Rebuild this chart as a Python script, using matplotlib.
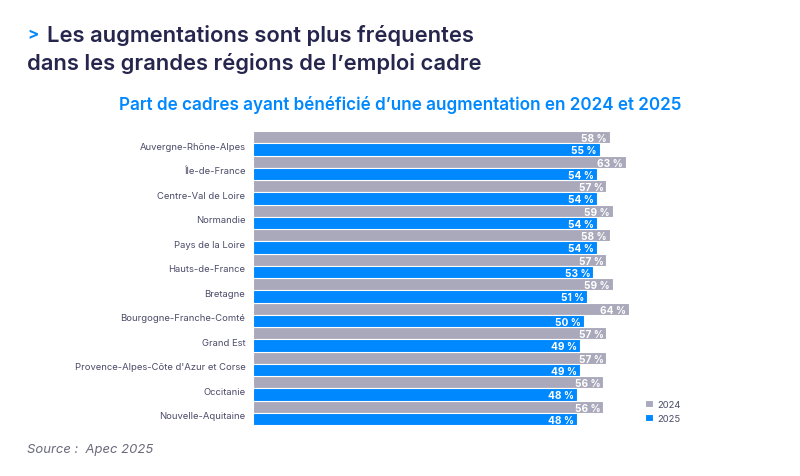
import matplotlib
matplotlib.use("Agg")
import matplotlib.pyplot as plt
import numpy as np

regions = [
    "Auvergne-Rhône-Alpes",
    "Île-de-France",
    "Centre-Val de Loire",
    "Normandie",
    "Pays de la Loire",
    "Hauts-de-France",
    "Bretagne",
    "Bourgogne-Franche-Comté",
    "Grand Est",
    "Provence-Alpes-Côte d'Azur et Corse",
    "Occitanie",
    "Nouvelle-Aquitaine",
]
v2024 = [58, 63, 57, 59, 58, 57, 59, 64, 57, 57, 56, 56]
v2025 = [55, 54, 54, 54, 54, 53, 51, 50, 49, 49, 48, 48]

GRAY = "#a9a9bb"
BLUE = "#0088ff"
NAVY = "#25254d"
LABEL = "#4b4b68"
BASE = -51  # bars start here on the value scale

plt.rcParams["font.family"] = ["Inter", "DejaVu Sans"]

W, H = 800, 477
fig = plt.figure(figsize=(W / 100, H / 100), dpi=100)
ax = fig.add_axes([253 / W, 1 - 426 / H, (649 - 253) / W, (426 - 132) / H])

n = len(regions)
pos = np.arange(n) * 2.0
a24 = np.array(v2024, dtype=float)
a25 = np.array(v2025, dtype=float)
ax.barh(pos, a24 - BASE, left=BASE, height=1.0, color=GRAY,
        edgecolor="white", linewidth=0.8, label="2024")
ax.barh(pos + 1, a25 - BASE, left=BASE, height=1.0, color=BLUE,
        edgecolor="white", linewidth=0.8, label="2025")

for y, v in zip(pos, a24):
    ax.text(v - 0.9, y + 0.08, f"{v:.0f} %", ha="right", va="center",
            color="white", fontsize=7.3, fontweight="bold")
for y, v in zip(pos + 1, a25):
    ax.text(v - 0.9, y + 0.08, f"{v:.0f} %", ha="right", va="center",
            color="white", fontsize=7.3, fontweight="bold")

ax.set_xlim(BASE, 70)
ax.set_ylim(pos[-1] + 1.5, -0.5)
ax.set_yticks(pos + 0.65)
ax.set_yticklabels(regions, fontsize=6.8, color=LABEL)
ax.tick_params(axis="y", length=0, pad=5.5)
ax.set_xticks([])
for s in ax.spines.values():
    s.set_visible(False)

leg = fig.legend(loc="upper left", bbox_to_anchor=(636 / W, 1 - 392 / H),
                 frameon=False, fontsize=6.8, handlelength=0.85,
                 handleheight=0.8, handletextpad=0.5, labelspacing=0.55)
for t in leg.get_texts():
    t.set_color(LABEL)

fig.text(27 / W, 1 - 35 / H, ">", color=BLUE, fontsize=12,
         fontweight="bold", va="center")
fig.text(47 / W, 1 - 35 / H, "Les augmentations sont plus fréquentes",
         color=NAVY, fontsize=15.8, fontweight="semibold", va="center")
fig.text(27 / W, 1 - 63 / H, "dans les grandes régions de l’emploi cadre",
         color=NAVY, fontsize=15.8, fontweight="semibold", va="center")
fig.text(400 / W, 1 - 105 / H,
         "Part de cadres ayant bénéficié d’une augmentation en 2024 et 2025",
         color=BLUE, fontsize=12.3, fontweight="semibold", va="center",
         ha="center")
fig.text(27 / W, 1 - 450 / H, "Source :  Apec 2025", color="#6a6a7a",
         fontsize=9.4, style="italic", va="center")

fig.savefig("out.png", dpi=100)
